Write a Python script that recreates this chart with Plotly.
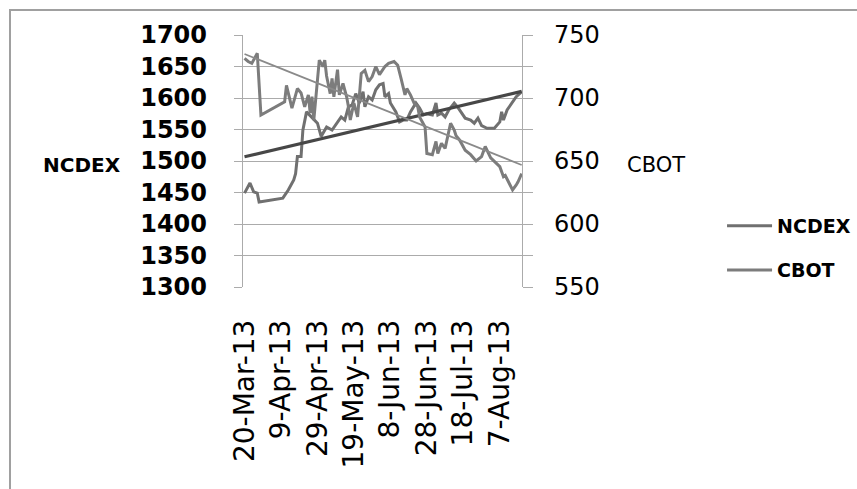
import numpy as np
import pandas as pd
import plotly.graph_objects as go

# Trading days, counted from 20-Mar-2013
start = pd.Timestamp("2013-03-20")

ncdex_day = [0, 3, 5, 7, 8, 21, 24, 27, 28, 29, 31, 32, 34, 36, 38, 40, 42, 45, 48,
             51, 53, 55, 57, 59, 61, 63, 65, 66, 68, 70, 72, 74, 76, 77, 79, 80, 83,
             85, 87, 89, 91, 94, 96, 98, 100, 103, 105, 106, 108, 110, 112, 115, 117,
             121, 124, 126, 128, 130, 133, 137, 140, 141, 142, 144, 147, 149, 152]
ncdex_val = [1449, 1465, 1451, 1449, 1435, 1441, 1454, 1470, 1480, 1507, 1507, 1549,
             1578, 1572, 1565, 1560, 1539, 1554, 1549, 1562, 1570, 1565, 1586, 1589,
             1607, 1592, 1610, 1586, 1602, 1597, 1613, 1621, 1623, 1602, 1607, 1592,
             1578, 1562, 1565, 1565, 1578, 1592, 1584, 1573, 1575, 1573, 1592, 1573,
             1576, 1570, 1581, 1592, 1585, 1568, 1565, 1560, 1568, 1556, 1552, 1552,
             1562, 1578, 1565, 1581, 1594, 1602, 1610]

cbot_day = [0, 2, 4, 7, 9, 22, 23, 26, 29, 31, 33, 35, 36, 37, 38, 41, 43, 44, 45,
            46, 47, 48, 49, 51, 52, 54, 56, 57, 58, 60, 62, 64, 66, 68, 70, 72, 74,
            77, 79, 82, 84, 86, 88, 89, 91, 93, 95, 96, 99, 100, 103, 105, 106, 108,
            110, 113, 115, 116, 118, 121, 124, 127, 130, 132, 134, 135, 140, 142,
            143, 146, 147, 149, 150, 152]
cbot_val = [731.5, 729, 727.5, 735.5, 686.5, 697, 710, 692, 707.5, 704, 693, 702.5,
            688, 701, 682.5, 730, 725, 730, 717.5, 709, 703.5, 715.5, 701, 722.5,
            702.5, 711.5, 701, 693, 682.5, 696, 685, 719.5, 722, 713, 717, 725, 718.5,
            725, 727.5, 729, 726, 714.5, 702.5, 707.5, 702.5, 696, 693, 685, 677, 656,
            655, 665.5, 656, 664, 660, 680, 674.5, 670, 666.5, 658.5, 655, 650, 653.5,
            661.5, 656, 652.5, 645.5, 637.5, 638.5, 629.5, 627, 631, 633.5, 640]

left_ticks = list(range(1300, 1701, 50))
right_ticks = [550 + 25 * i for i in range(9)]
right_text = [str(v) if v % 50 == 0 else "" for v in right_ticks]
date_ticks = [start + pd.Timedelta(days=20 * i) for i in range(8)]

ncdex_x = [start + pd.Timedelta(days=d) for d in ncdex_day]
cbot_x = [start + pd.Timedelta(days=d) for d in cbot_day]

# Linear trends for each series
span = [0, max(ncdex_day[-1], cbot_day[-1])]
n_fit = np.polyfit(ncdex_day, ncdex_val, 1)
c_fit = np.polyfit(cbot_day, cbot_val, 1)
trend_x = [start + pd.Timedelta(days=d) for d in span]

GRID = "#ababab"
fig = go.Figure()
fig.add_trace(go.Scatter(x=ncdex_x, y=ncdex_val, mode="lines", name="NCDEX",
                         line=dict(color="#707070", width=3), legend="legend"))
fig.add_trace(go.Scatter(x=cbot_x, y=cbot_val, mode="lines", name="CBOT", yaxis="y2",
                         line=dict(color="#7c7c7c", width=3), legend="legend2"))
fig.add_trace(go.Scatter(x=trend_x, y=np.polyval(n_fit, span), mode="lines",
                         line=dict(color="#474747", width=3.2), showlegend=False))
fig.add_trace(go.Scatter(x=trend_x, y=np.polyval(c_fit, span), mode="lines", yaxis="y2",
                         line=dict(color="#8a8a8a", width=1.8), showlegend=False))

legend_font = dict(size=19, family="DejaVu Sans", weight="bold")
fig.update_layout(
    width=857, height=489,
    margin=dict(l=243, r=335, t=35, b=202, autoexpand=False),
    paper_bgcolor="white", plot_bgcolor="white",
    font=dict(family="DejaVu Sans", color="black"),
    xaxis=dict(type="date",
               range=[start - pd.Timedelta(hours=20), start + pd.Timedelta(days=152, hours=4)],
               tickvals=date_ticks, tickformat="%-d-%b-%y", tickangle=-90,
               tickfont=dict(size=28), ticks="", ticklabelstandoff=26,
               showgrid=False, showline=False, zeroline=False, automargin=False),
    yaxis=dict(range=[1300, 1700], tickvals=left_ticks,
               tickfont=dict(size=24, family="DejaVu Sans", weight="bold"),
               ticks="outside", ticklen=8, tickcolor=GRID, ticklabelstandoff=22,
               showgrid=True, gridcolor=GRID, gridwidth=1.4, automargin=False,
               showline=True, linecolor=GRID, linewidth=1.4, zeroline=False),
    yaxis2=dict(range=[550, 750], overlaying="y", side="right",
                tickvals=right_ticks, ticktext=right_text,
                tickfont=dict(size=24, family="DejaVu Sans"),
                ticks="outside", ticklen=10, tickcolor=GRID, ticklabelstandoff=16,
                showgrid=False, showline=True, linecolor=GRID, linewidth=1.4,
                zeroline=False, automargin=False),
    legend=dict(x=1.717, y=0.242, xanchor="left", yanchor="middle", itemwidth=45,
                font=legend_font, bgcolor="rgba(0,0,0,0)"),
    legend2=dict(x=1.717, y=0.067, xanchor="left", yanchor="middle", itemwidth=45,
                 font=legend_font, bgcolor="rgba(0,0,0,0)"),
    annotations=[
        dict(text="NCDEX", x=-0.577, y=0.484, xref="paper", yref="paper", showarrow=False,
             xanchor="center", yanchor="middle",
             font=dict(size=20, family="DejaVu Sans", weight="bold")),
        dict(text="CBOT", x=1.48, y=0.484, xref="paper", yref="paper", showarrow=False,
             xanchor="center", yanchor="middle",
             font=dict(size=21, family="DejaVu Sans")),
    ],
    shapes=[dict(type="rect", xref="paper", yref="paper",
                 x0=(10 - 243) / 279, x1=1.2 + 900 / 279, y0=-1.5, y1=(287 - 10) / 252,
                 line=dict(color="#a0a0a0", width=2), layer="below")],
)

fig.write_html("out.html")
